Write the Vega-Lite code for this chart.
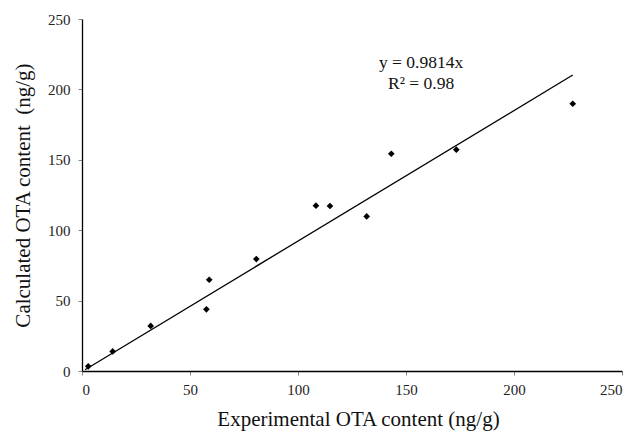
{
  "$schema": "https://vega.github.io/schema/vega-lite/v6.json",
  "width": 540,
  "height": 352,
  "autosize": {"type": "none"},
  "padding": {"left": 82, "top": 19, "right": 11, "bottom": 60},
  "background": "white",
  "config": {
    "view": {"stroke": null},
    "font": "Liberation Serif",
    "axis": {
      "grid": false,
      "domainColor": "black",
      "domainWidth": 1.3,
      "tickColor": "#888",
      "tickSize": 4,
      "labelFont": "Liberation Serif",
      "labelFontSize": 15,
      "labelColor": "#222",
      "titleFont": "Liberation Serif",
      "titleFontSize": 21,
      "titleFontWeight": "normal",
      "titleColor": "#111"
    }
  },
  "datasets": {
    "points": [
      {"exp": 2.9, "calc": 3.3},
      {"exp": 14.2, "calc": 13.9},
      {"exp": 31.8, "calc": 32},
      {"exp": 57.6, "calc": 43.8},
      {"exp": 58.9, "calc": 64.8},
      {"exp": 80.7, "calc": 79.5},
      {"exp": 108.3, "calc": 117.4},
      {"exp": 114.8, "calc": 117.2},
      {"exp": 131.8, "calc": 109.8},
      {"exp": 143.2, "calc": 154.3},
      {"exp": 173.3, "calc": 157.2},
      {"exp": 227.2, "calc": 189.8}
    ],
    "trend": [
      {"exp": 1.4, "calc": 0.9},
      {"exp": 227.2, "calc": 210.2}
    ],
    "labels": [
      {"exp": 157, "calc": 219, "text": "y = 0.9814x"},
      {"exp": 157, "calc": 204, "text": "R² = 0.98"}
    ]
  },
  "layer": [
    {
      "data": {"name": "trend"},
      "mark": {"type": "line", "color": "black", "strokeWidth": 1.3},
      "encoding": {
        "x": {"field": "exp", "type": "quantitative", "scale": {"domain": [0, 250], "nice": false},
              "axis": {"values": [0, 50, 100, 150, 200, 250], "title": "Experimental OTA content (ng/g)", "labelPadding": 7, "titleBaseline": "alphabetic", "titleX": 276, "titleY": 54}},
        "y": {"field": "calc", "type": "quantitative", "scale": {"domain": [0, 250], "nice": false},
              "axis": {"values": [0, 50, 100, 150, 200, 250], "title": "Calculated OTA content\u00a0 (ng/g)", "labelPadding": 8, "titleAngle": -90, "titleBaseline": "alphabetic", "titleX": -53, "titleY": 176}}
      }
    },
    {
      "data": {"name": "points"},
      "mark": {"type": "point", "shape": "diamond", "filled": true, "color": "black", "size": 45, "opacity": 1},
      "encoding": {
        "x": {"field": "exp", "type": "quantitative"},
        "y": {"field": "calc", "type": "quantitative"}
      }
    },
    {
      "data": {"name": "labels"},
      "mark": {"type": "text", "font": "Liberation Serif", "fontSize": 17.5, "color": "#111", "align": "center", "baseline": "middle"},
      "encoding": {
        "x": {"field": "exp", "type": "quantitative"},
        "y": {"field": "calc", "type": "quantitative"},
        "text": {"field": "text"}
      }
    }
  ]
}
